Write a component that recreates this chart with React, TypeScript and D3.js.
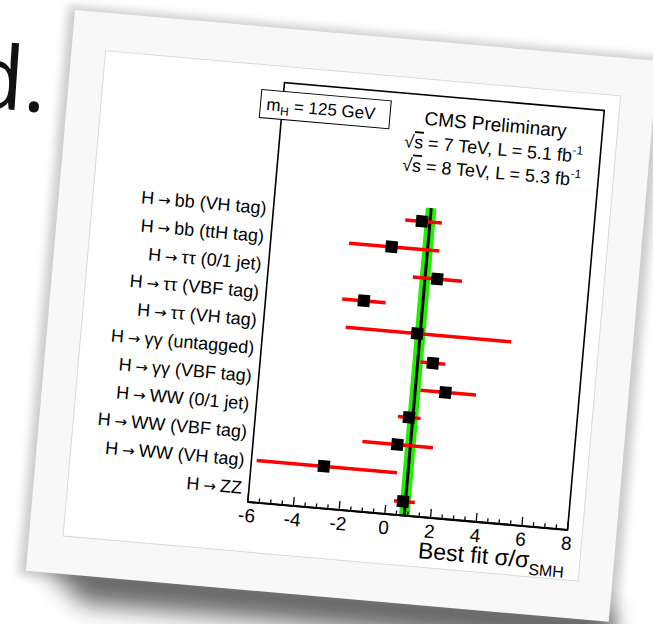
import React from "react"
import * as d3 from "d3"

// channels, top to bottom
const channels = [
  "bb (VH tag)",
  "bb (ttH tag)",
  "ττ (0/1 jet)",
  "ττ (VBF tag)",
  "ττ (VH tag)",
  "γγ (untagged)",
  "γγ (VBF tag)",
  "WW (0/1 jet)",
  "WW (VBF tag)",
  "WW (VH tag)",
  "ZZ",
]
const bestFit = [0.5, -0.72, 1.38, -1.72, 0.72, 1.51, 2.17, 0.68, 0.28, -2.83, 0.74]
const errLow = [-0.23, -2.58, 0.32, -2.67, -2.41, 0.97, 1.08, 0.2, -1.25, -5.77, 0.35]
const errHigh = [1.37, 1.37, 2.47, -0.77, 4.83, 2.06, 3.51, 1.19, 1.84, 0.37, 1.26]
const combined = [0.85, 0.62, 1.08] // best fit, band low, band high
const xTicks = [-6, -4, -2, 0, 2, 4, 6, 8]

const W = 653
const H = 624
const font = "'Liberation Sans', Arial, sans-serif"

export default function App() {
  // plot frame inside the rotated card
  const left = 215, right = 536, top = 54, bottom = 475
  const x = d3.scaleLinear().domain([-6, 8]).range([left, right])
  const y = d3.scaleLinear().domain([0, 15]).range([bottom, top])
  const n = channels.length
  const rowY = (i: number) => y(n - 1 - i + 0.5)
  const minor = d3.range(-6, 8.01, 0.5)

  return (
    <svg width={W} height={H} style={{ position: "absolute", left: 0, top: 0, background: "#fff" }}>
      <defs>
        <filter id="blur" x="-20%" y="-50%" width="140%" height="200%">
          <feGaussianBlur stdDeviation="12" />
        </filter>
        <filter id="blur2" x="-20%" y="-20%" width="140%" height="140%">
          <feGaussianBlur stdDeviation="5" />
        </filter>
      </defs>

      <g transform="translate(45,112) rotate(4)">
        <text x={0} y={0} textAnchor="end" fontSize={88} fontFamily="'Open Sans', sans-serif" fill="#111">d.</text>
      </g>

      <g transform="translate(75,10) rotate(5)">
        {/* shadows */}
        <rect x={-7} y={-4} width={600} height={572} fill="#000" opacity={0.2} filter="url(#blur2)" />
        <path d="M15,552 L588,552 L590,592 L60,590 Z" fill="#333" opacity={0.75} filter="url(#blur)" />
        {/* card */}
        <rect x={0} y={0} width={585} height={563} fill="#f8f8f8" />
        <rect x={34} y={38} width={517} height={487} fill="#fff" stroke="#dadada" strokeWidth={1} />

        {/* combined band */}
        <rect x={x(combined[1])} y={y(11)} width={x(combined[2]) - x(combined[1])} height={y(0) - y(11)} fill="#22ee00" />
        <line x1={x(combined[0])} x2={x(combined[0])} y1={y(11)} y2={y(0)} stroke="#000" strokeWidth={3} />

        {/* error bars and points */}
        {channels.map((c, i) => (
          <g key={c}>
            <line x1={x(errLow[i])} x2={x(errHigh[i])} y1={rowY(i)} y2={rowY(i)} stroke="#ff0000" strokeWidth={3.5} />
            <rect x={x(bestFit[i]) - 6} y={rowY(i) - 6} width={12} height={12} fill="#000" />
            <text x={left - 7} y={rowY(i)} dy="0.36em" textAnchor="end" fontSize={18} fontFamily={font}>
              H<tspan fontFamily="'DejaVu Sans', sans-serif" fontSize={15} dx={4}>→</tspan><tspan dx={4}>{c}</tspan>
            </text>
          </g>
        ))}

        {/* frame */}
        <rect x={left} y={top} width={right - left} height={bottom - top} fill="none" stroke="#000" strokeWidth={1.6} />
        <line x1={left} x2={right} y1={bottom} y2={bottom} stroke="#000" strokeWidth={2} />
        {minor.map(t => {
          const major = Math.abs(t % 2) < 1e-6
          return <line key={t} x1={x(t)} x2={x(t)} y1={bottom} y2={bottom - (major ? 9 : 4.5)} stroke="#000" strokeWidth={1.3} />
        })}
        {xTicks.map(t => (
          <text key={t} x={x(t)} y={bottom + 20} textAnchor="middle" fontSize={19} fontFamily={font}>{t}</text>
        ))}
        <text x={right} y={bottom + 41} textAnchor="end" fontSize={23} fontFamily={font}>
          Best fit σ/σ<tspan fontSize={16} dy={7}>SMH</tspan>
        </text>

        {/* mH box */}
        <rect x={193} y={63} width={130} height={28} fill="#fff" stroke="#000" strokeWidth={1} />
        <text x={199} y={83} fontSize={17} fontFamily={font}>
          m<tspan fontSize={12} dy={4}>H</tspan><tspan dy={-4}> = 125 GeV</tspan>
        </text>

        {/* CMS labels */}
        <text x={429} y={84} textAnchor="middle" fontSize={19} fontFamily={font}>CMS Preliminary</text>
        <text x={429} y={108} textAnchor="middle" fontSize={18} fontFamily={font}>
          √<tspan textDecoration="overline">s</tspan> = 7 TeV, L = 5.1 fb<tspan fontSize={12} dy={-8}>-1</tspan>
        </text>
        <text x={429} y={131.5} textAnchor="middle" fontSize={18} fontFamily={font}>
          √<tspan textDecoration="overline">s</tspan> = 8 TeV, L = 5.3 fb<tspan fontSize={12} dy={-8}>-1</tspan>
        </text>
      </g>
    </svg>
  )
}
